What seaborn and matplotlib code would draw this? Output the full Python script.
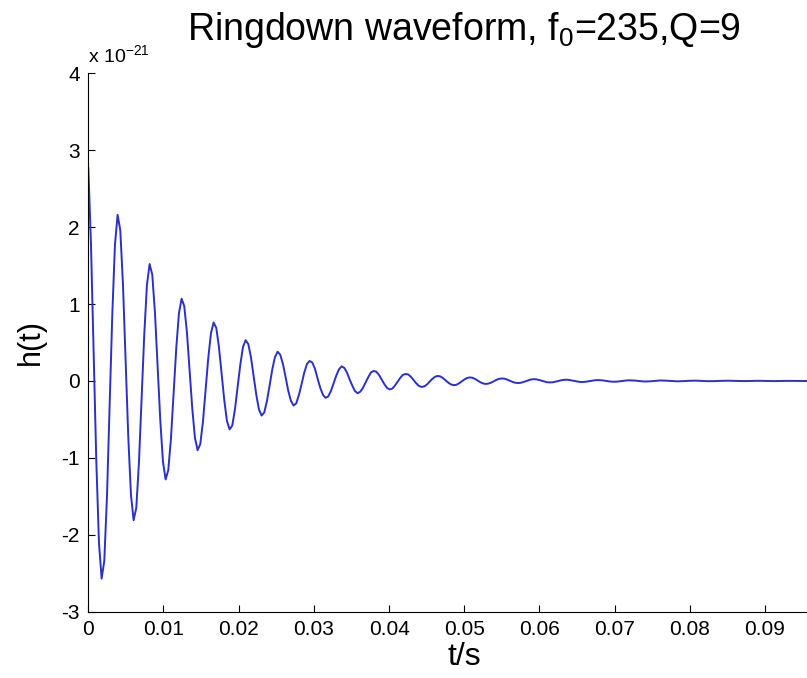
import numpy as np
import pandas as pd
import seaborn as sns
import matplotlib
matplotlib.use('Agg')
import matplotlib.pyplot as plt
from matplotlib.ticker import FormatStrFormatter

# ringdown strain in units of 1e-21, 12 samples per cycle
sample_rate = 2820  # Hz

strain_early = [
    2.78, 1.79, 0.39, -1.03, -2.10, -2.57, -2.34, -1.51, -0.33, 0.86, 1.77, 2.16,
    1.96, 1.26, 0.28, -0.73, -1.48, -1.81, -1.65, -1.06, -0.23, 0.61, 1.25, 1.52,
    1.38, 0.89, 0.20, -0.51, -1.05, -1.28, -1.16, -0.75, -0.16, 0.43, 0.88, 1.07,
    0.97, 0.63, 0.14, -0.36, -0.74, -0.90, -0.82, -0.53, -0.12, 0.30, 0.62, 0.76,
    0.69, 0.44, 0.10, -0.25, -0.52, -0.63, -0.58, -0.37, -0.08, 0.21, 0.44, 0.53,
]

strain_mid = [
    0.48, 0.31, 0.07, -0.18, -0.37, -0.45, -0.41, -0.26, -0.06, 0.15, 0.31, 0.38,
    0.34, 0.22, 0.05, -0.13, -0.26, -0.32, -0.29, -0.18, -0.04, 0.11, 0.22, 0.26,
    0.24, 0.16, 0.03, -0.09, -0.18, -0.22, -0.20, -0.13, -0.03, 0.07, 0.15, 0.19,
    0.17, 0.11, 0.02, -0.06, -0.13, -0.16, -0.14, -0.09, -0.02, 0.05, 0.11, 0.13,
    0.12, 0.08, 0.02, -0.04, -0.09, -0.11, -0.10, -0.06, -0.01, 0.04, 0.08, 0.09,
    0.084, 0.054, 0.012, -0.031, -0.064, -0.078, -0.071, -0.046, -0.010, 0.026, 0.054, 0.065,
    0.059, 0.038, 0.008, -0.022, -0.045, -0.055, -0.050, -0.032, -0.007, 0.018, 0.038, 0.046,
]

strain_tail = [
    0.042, 0.027, 0.006, -0.016, -0.032, -0.039, -0.035, -0.023, -0.005, 0.013, 0.027, 0.032,
    0.030, 0.019, 0.004, -0.011, -0.022, -0.027, -0.025, -0.016, -0.004, 0.009, 0.019, 0.023,
    0.021, 0.013, 0.003, -0.008, -0.016, -0.019, -0.018, -0.011, -0.002, 0.006, 0.013, 0.016,
    0.015, 0.009, 0.002, -0.005, -0.011, -0.014, -0.012, -0.008, -0.002, 0.005, 0.009, 0.011,
    0.010, 0.007, 0.001, -0.004, -0.008, -0.010, -0.009, -0.006, -0.001, 0.003, 0.007, 0.008,
    0.007, 0.005, 0.001, -0.003, -0.006, -0.007, -0.006, -0.004, -0.001, 0.002, 0.005, 0.006,
    0.005, 0.003, 0.001, -0.002, -0.004, -0.005, -0.004, -0.003, -0.001, 0.002, 0.003, 0.004,
    0.004, 0.002, 0.001, -0.001, -0.003, -0.003, -0.003, -0.002, 0.000, 0.001, 0.002, 0.003,
    0.003, 0.002, 0.000, -0.001, -0.002, -0.002, -0.002, -0.001, 0.000, 0.001, 0.002, 0.002,
    0.002, 0.001, 0.000, -0.001, -0.001, -0.002, -0.002, -0.001, 0.000, 0.001, 0.001, 0.001,
    0.001, 0.001, 0.000, 0.000, -0.001, -0.001, -0.001, -0.001, 0.000, 0.000, 0.001, 0.001,
    0.001, 0.001, 0.000, 0.000, -0.001, -0.001, -0.001,
]

x_ticks = [0, 0.01, 0.02, 0.03, 0.04, 0.05, 0.06, 0.07, 0.08, 0.09]
y_ticks = [-3, -2, -1, 0, 1, 2, 3, 4]

h = np.array(strain_early + strain_mid + strain_tail)
df = pd.DataFrame({'t': np.arange(len(h)) / sample_rate, 'h': h})

sns.set_style('ticks')
plt.rcParams['font.family'] = ['Liberation Sans', 'DejaVu Sans']
plt.rcParams['text.color'] = 'black'
plt.rcParams['axes.labelcolor'] = 'black'
plt.rcParams['mathtext.fontset'] = 'custom'
plt.rcParams['mathtext.rm'] = 'Liberation Sans'
plt.rcParams['mathtext.it'] = 'Liberation Sans:italic'
plt.rcParams['mathtext.bf'] = 'Liberation Sans:bold'

fig = plt.figure(figsize=(8.07, 6.78), dpi=100)
# axes run to t=0.1, the right end is cut off by the figure edge like the original
ax = fig.add_axes([0.1094, 0.0978, 0.9318, 0.7941])

sns.lineplot(data=df, x='t', y='h', ax=ax, color='#2a30c8', linewidth=1.4, estimator=None)

ax.set_xlim(0, 0.1)
ax.set_ylim(-3, 4)
ax.set_xticks(x_ticks)
ax.set_yticks(y_ticks)
ax.xaxis.set_major_formatter(FormatStrFormatter('%g'))
ax.yaxis.set_major_formatter(FormatStrFormatter('%g'))
ax.tick_params(direction='in', length=5, width=0.8, labelsize=15, pad=6, colors='black')

sns.despine(ax=ax)
for side in ['left', 'bottom']:
    ax.spines[side].set_linewidth(0.8)
    ax.spines[side].set_color('black')

ax.set_xlabel('t/s', fontsize=23, labelpad=2)
ax.set_ylabel('h(t)', fontsize=22, labelpad=11)
ax.set_title('Ringdown waveform, f$_0$=235,Q=9', fontsize=27, pad=24, color='black')

ax.annotate(r'x 10$^{-21}$', xy=(0, 1), xycoords='axes fraction',
            xytext=(0, 8), textcoords='offset points', fontsize=14,
            ha='left', va='baseline')

fig.savefig('out.png', dpi=100)
